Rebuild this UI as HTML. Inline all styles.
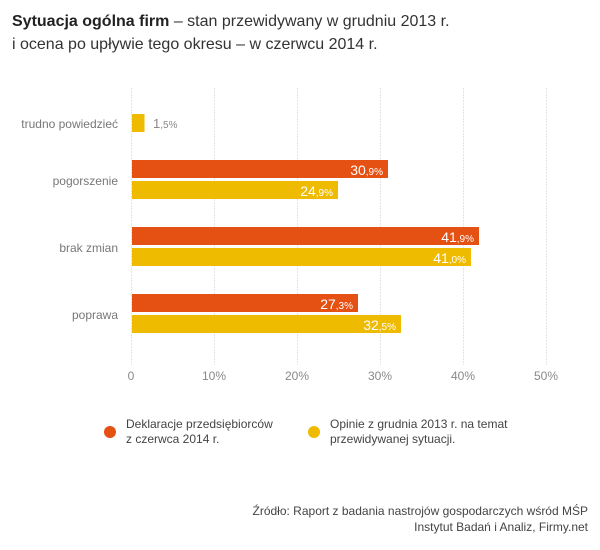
<!DOCTYPE html>
<html><head><meta charset="utf-8"><style>
body{margin:0;background:#fff;width:600px;height:545px;overflow:hidden;font-family:"Liberation Sans",sans-serif;}
</style></head><body>
<svg width="600" height="545" xmlns="http://www.w3.org/2000/svg" font-family="Liberation Sans, sans-serif">
<text x="12" y="26" font-size="16" fill="#333"><tspan font-weight="bold" fill="#222">Sytuacja ogólna firm</tspan> – stan przewidywany w grudniu 2013 r.</text>
<text x="12" y="49" font-size="16" fill="#333">i ocena po upływie tego okresu – w czerwcu 2014 r.</text>
<g stroke="#e4e4e4" stroke-width="1" stroke-dasharray="2,1">
<line x1="131.5" y1="88" x2="131.5" y2="365"/>
<line x1="214.5" y1="88" x2="214.5" y2="365"/>
<line x1="297.5" y1="88" x2="297.5" y2="365"/>
<line x1="380.5" y1="88" x2="380.5" y2="365"/>
<line x1="463.5" y1="88" x2="463.5" y2="365"/>
<line x1="546.5" y1="88" x2="546.5" y2="365"/>
</g>
<g font-size="12" fill="#888" text-anchor="middle">
<text x="131" y="380">0</text><text x="214" y="380">10%</text><text x="297" y="380">20%</text><text x="380" y="380">30%</text><text x="463" y="380">40%</text><text x="546" y="380">50%</text>
</g>
<g font-size="12" fill="#777" text-anchor="end">
<text x="118" y="128">trudno powiedzieć</text>
<text x="118" y="185">pogorszenie</text>
<text x="118" y="252">brak zmian</text>
<text x="118" y="319">poprawa</text>
</g>
<rect x="132" y="114" width="12.5" height="18" fill="#eebb00"/>
<text x="153" y="128" font-size="13" fill="#888">1<tspan font-size="10">,5%</tspan></text>
<rect x="132" y="160" width="256" height="18" fill="#e55013"/>
<rect x="132" y="181" width="206" height="18" fill="#eebb00"/>
<rect x="132" y="227" width="347" height="18" fill="#e55013"/>
<rect x="132" y="248" width="339" height="18" fill="#eebb00"/>
<rect x="132" y="294" width="226" height="18" fill="#e55013"/>
<rect x="132" y="315" width="269" height="18" fill="#eebb00"/>
<g font-size="14" fill="#fff" text-anchor="end">
<text x="383" y="175">30<tspan font-size="10">,9%</tspan></text>
<text x="333" y="196">24<tspan font-size="10">,9%</tspan></text>
<text x="474" y="242">41<tspan font-size="10">,9%</tspan></text>
<text x="466" y="263">41<tspan font-size="10">,0%</tspan></text>
<text x="353" y="309">27<tspan font-size="10">,3%</tspan></text>
<text x="396" y="330">32<tspan font-size="10">,5%</tspan></text>
</g>
<circle cx="110" cy="432" r="6" fill="#e55013"/>
<text x="126" y="428" font-size="12" fill="#444">Deklaracje przedsiębiorców</text>
<text x="126" y="443" font-size="12" fill="#444">z czerwca 2014 r.</text>
<circle cx="314" cy="432" r="6" fill="#eebb00"/>
<text x="330" y="428" font-size="12" fill="#444">Opinie z grudnia 2013 r. na temat</text>
<text x="330" y="443" font-size="12" fill="#444">przewidywanej sytuacji.</text>
<g font-size="12" fill="#444" text-anchor="end">
<text x="588" y="515">Źródło: Raport z badania nastrojów gospodarczych wśród MŚP</text>
<text x="588" y="531">Instytut Badań i Analiz, Firmy.net</text>
</g>
</svg>
</body></html>
